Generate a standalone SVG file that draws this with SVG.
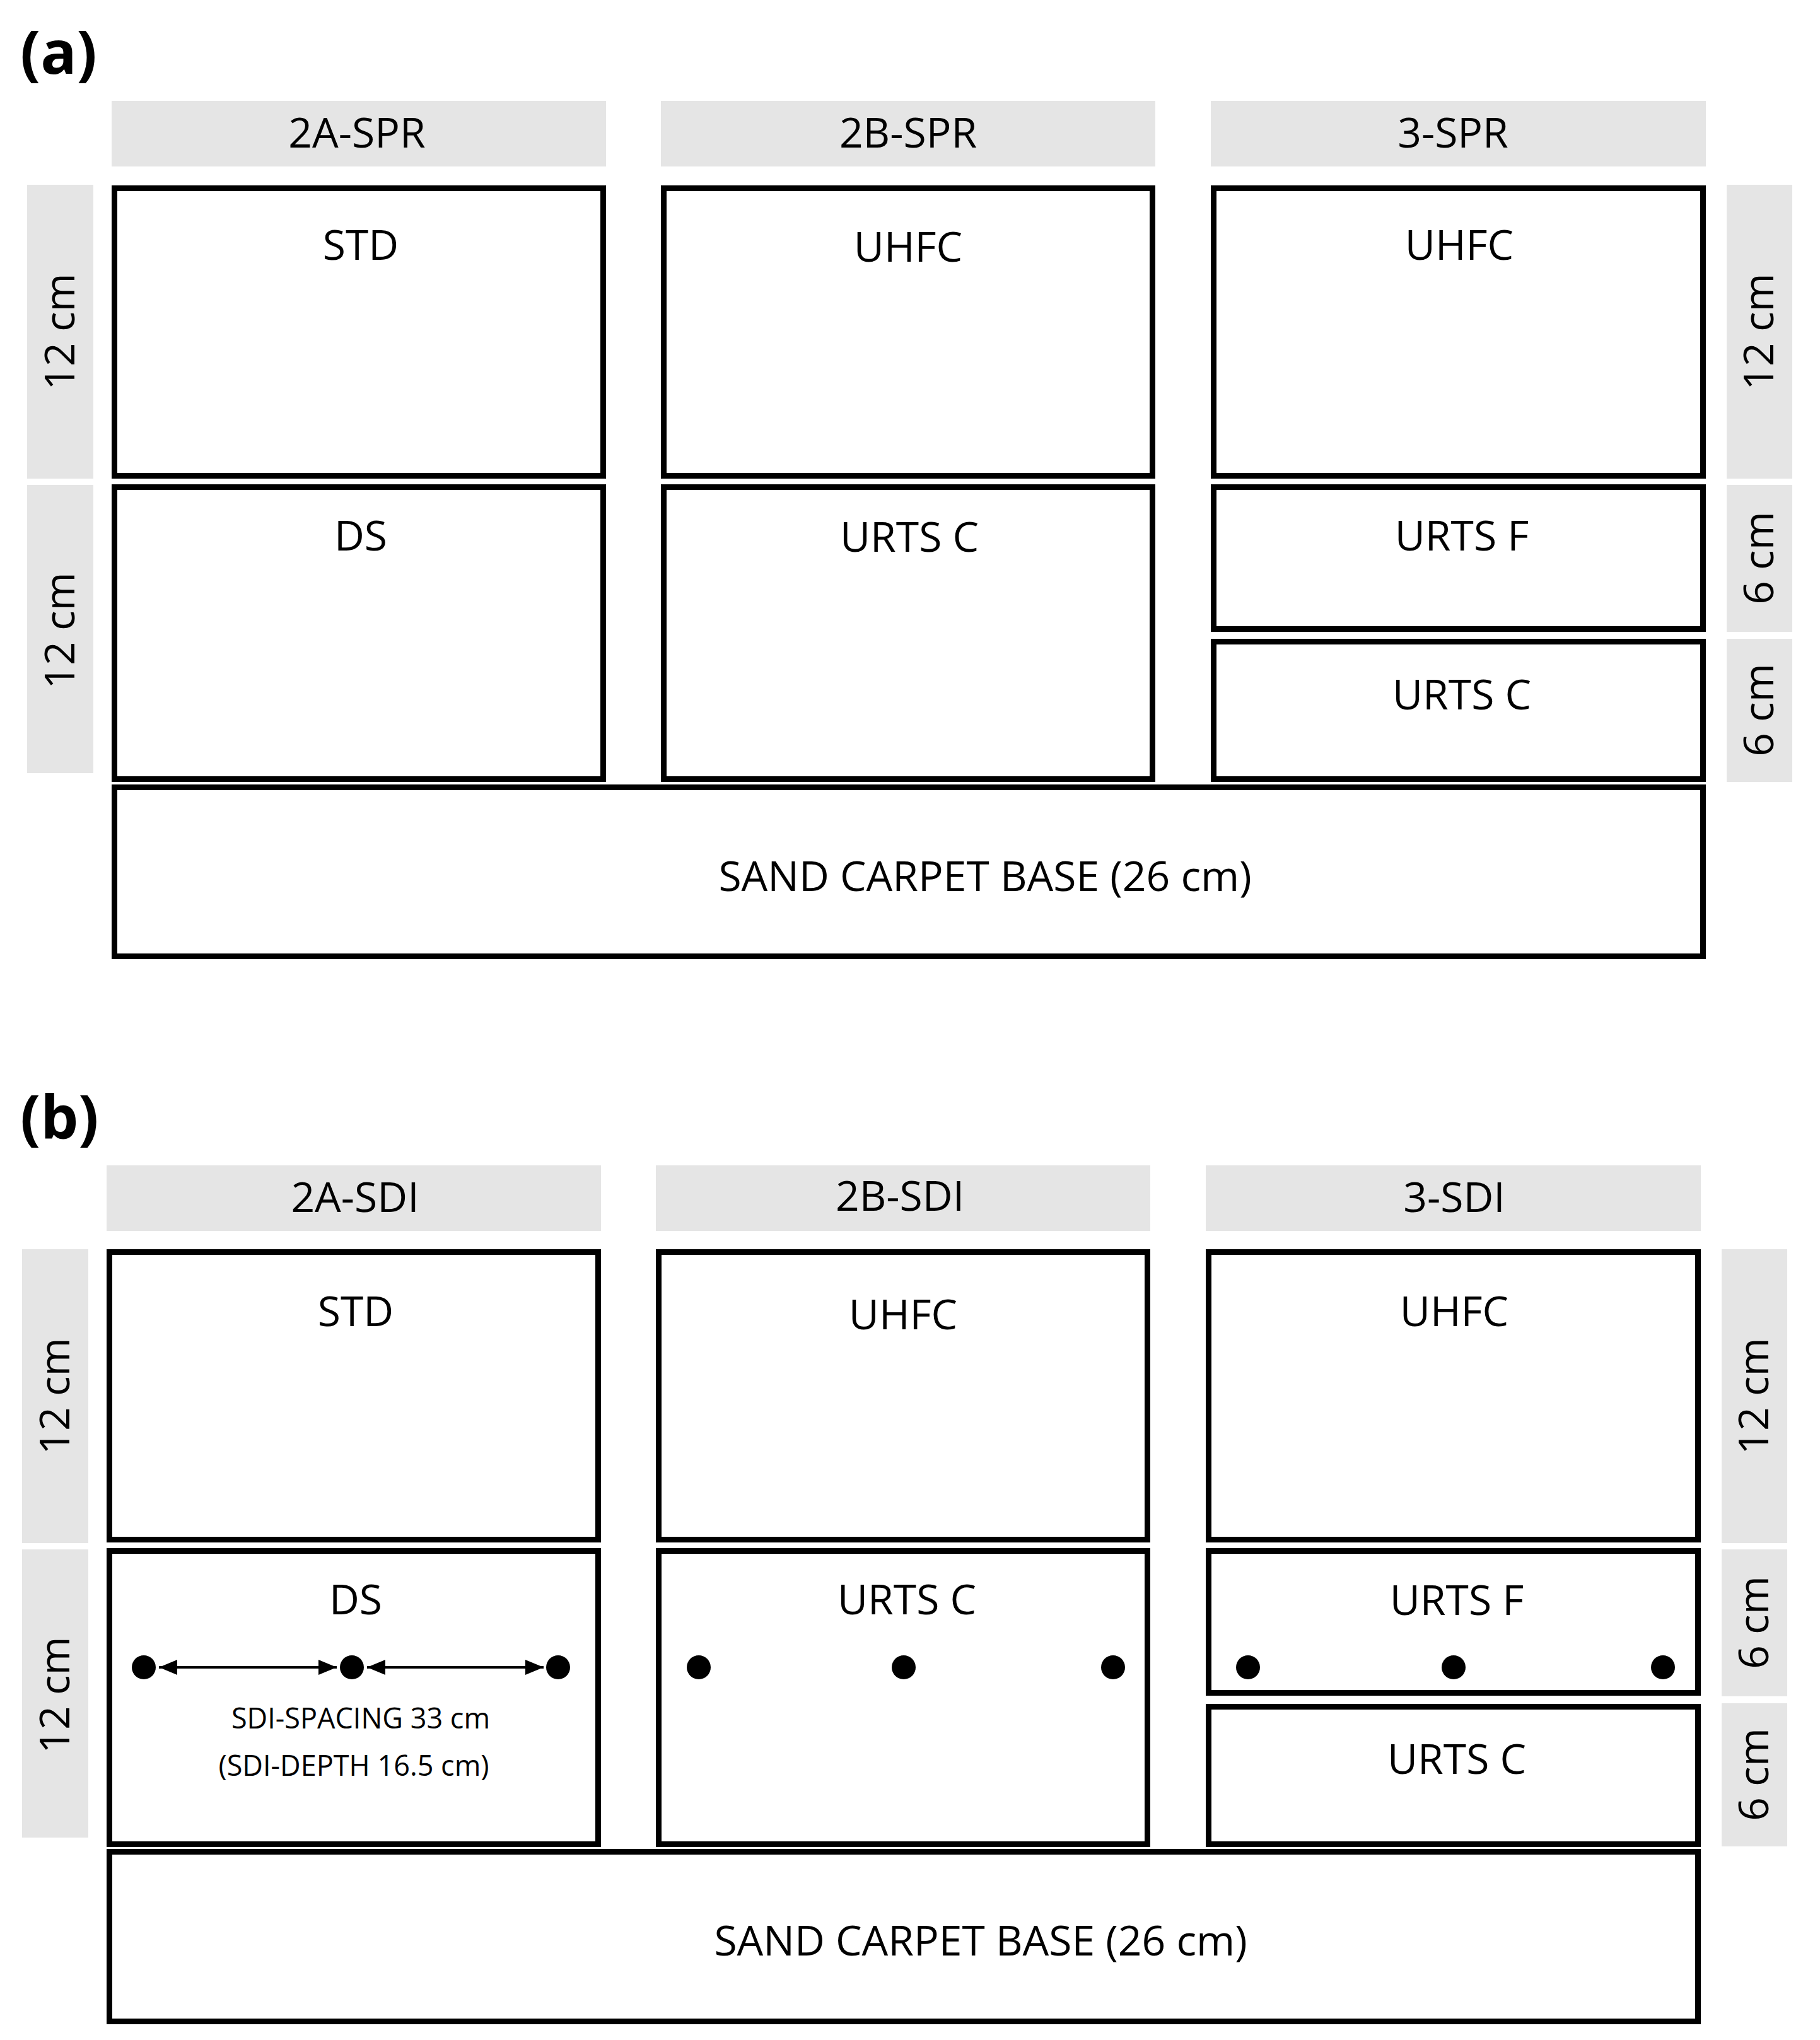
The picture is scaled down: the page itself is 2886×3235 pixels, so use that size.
<svg xmlns="http://www.w3.org/2000/svg" width="2886" height="3235" viewBox="0 0 2886 3235">
<style>
  text { font-family: "Open Sans", "Noto Sans", "Liberation Sans", sans-serif; fill: #000; }
  .hdr { fill: #e5e5e5; stroke: none; }
  .box { fill: #fff; stroke: #000; stroke-width: 9; }
  .t { font-size: 66px; text-anchor: middle; }
  .side { font-size: 66px; text-anchor: middle; }
  .small { font-size: 45px; text-anchor: middle; }
  .panel { font-size: 95px; font-weight: bold; }
  .dot { fill: #000; }
  .arr { stroke: #000; stroke-width: 4; fill: none; marker-start: url(#ah); marker-end: url(#ah); }
</style>
<defs>
  <marker id="ah" markerUnits="userSpaceOnUse" markerWidth="30" markerHeight="26" refX="29" refY="12" orient="auto-start-reverse">
    <path d="M0,0 L29,12 L0,24 z" fill="#000"/>
  </marker>
</defs>
<rect width="2886" height="3235" fill="#fff"/>

<!-- Panel (a) -->
<g id="panel-a">
  <text class="panel" x="32" y="117">(a)</text>
  <g id="a-hdr-2A"><rect class="hdr" x="177" y="160" width="784" height="104"/><text class="t" x="566" y="234">2A-SPR</text></g>
  <g id="a-hdr-2B"><rect class="hdr" x="1048" y="160" width="784" height="104"/><text class="t" x="1440" y="234">2B-SPR</text></g>
  <g id="a-hdr-3"><rect class="hdr" x="1920" y="160" width="785" height="104"/><text class="t" x="2304" y="234">3-SPR</text></g>

  <g id="a-lbl-l1"><rect class="hdr" x="43" y="293" width="105" height="466"/><text class="side" transform="translate(118,526) rotate(-90)">12 cm</text></g>
  <g id="a-lbl-l2"><rect class="hdr" x="43" y="769" width="105" height="457"/><text class="side" transform="translate(118,1000) rotate(-90)">12 cm</text></g>
  <g id="a-lbl-r1"><rect class="hdr" x="2738" y="293" width="104" height="466"/><text class="side" transform="translate(2812,526) rotate(-90)">12 cm</text></g>
  <g id="a-lbl-r2"><rect class="hdr" x="2738" y="769" width="104" height="233"/><text class="side" transform="translate(2812,885) rotate(-90)">6 cm</text></g>
  <g id="a-lbl-r3"><rect class="hdr" x="2738" y="1013" width="104" height="227"/><text class="side" transform="translate(2812,1126) rotate(-90)">6 cm</text></g>

  <g id="a-std"><rect class="box" x="181.5" y="298.5" width="775" height="456"/><text class="t" x="572" y="412">STD</text></g>
  <g id="a-ds"><rect class="box" x="181.5" y="772.5" width="775" height="463"/><text class="t" x="572" y="873">DS</text></g>
  <g id="a-uhfc2"><rect class="box" x="1052.5" y="298.5" width="775" height="456"/><text class="t" x="1440" y="415">UHFC</text></g>
  <g id="a-urtsc2"><rect class="box" x="1052.5" y="772.5" width="775" height="463"/><text class="t" x="1442" y="875">URTS C</text></g>
  <g id="a-uhfc3"><rect class="box" x="1924.5" y="298.5" width="776" height="456"/><text class="t" x="2314" y="412">UHFC</text></g>
  <g id="a-urtsf3"><rect class="box" x="1924.5" y="772.5" width="776" height="225"/><text class="t" x="2318" y="873">URTS F</text></g>
  <g id="a-urtsc3"><rect class="box" x="1924.5" y="1017.5" width="776" height="218"/><text class="t" x="2318" y="1125">URTS C</text></g>
  <g id="a-base"><rect class="box" x="181.5" y="1248.5" width="2519" height="268"/><text class="t" x="1562" y="1413">SAND CARPET BASE (26 cm)</text></g>
</g>

<!-- Panel (b) -->
<g id="panel-b">
  <text class="panel" x="32" y="1805">(b)</text>
  <g id="b-hdr-2A"><rect class="hdr" x="169" y="1848" width="784" height="104"/><text class="t" x="563" y="1922">2A-SDI</text></g>
  <g id="b-hdr-2B"><rect class="hdr" x="1040" y="1848" width="784" height="104"/><text class="t" x="1427" y="1920">2B-SDI</text></g>
  <g id="b-hdr-3"><rect class="hdr" x="1912" y="1848" width="785" height="104"/><text class="t" x="2306" y="1922">3-SDI</text></g>

  <g id="b-lbl-l1"><rect class="hdr" x="35" y="1981" width="105" height="466"/><text class="side" transform="translate(110,2214) rotate(-90)">12 cm</text></g>
  <g id="b-lbl-l2"><rect class="hdr" x="35" y="2457" width="105" height="457"/><text class="side" transform="translate(110,2688) rotate(-90)">12 cm</text></g>
  <g id="b-lbl-r1"><rect class="hdr" x="2730" y="1981" width="104" height="466"/><text class="side" transform="translate(2804,2214) rotate(-90)">12 cm</text></g>
  <g id="b-lbl-r2"><rect class="hdr" x="2730" y="2457" width="104" height="233"/><text class="side" transform="translate(2804,2573) rotate(-90)">6 cm</text></g>
  <g id="b-lbl-r3"><rect class="hdr" x="2730" y="2701" width="104" height="227"/><text class="side" transform="translate(2804,2814) rotate(-90)">6 cm</text></g>

  <g id="b-std"><rect class="box" x="173.5" y="1985.5" width="775" height="456"/><text class="t" x="564" y="2103">STD</text></g>
  <g id="b-ds"><rect class="box" x="173.5" y="2459.5" width="775" height="465"/><text class="t" x="564" y="2560">DS</text>
    <circle class="dot" cx="228" cy="2644" r="19"/><circle class="dot" cx="558" cy="2644" r="19"/><circle class="dot" cx="885" cy="2644" r="19"/>
    <text class="small" x="572" y="2741">SDI-SPACING 33 cm</text>
    <text class="small" x="561" y="2816">(SDI-DEPTH 16.5 cm)</text>
  </g>
  <g id="b-uhfc2"><rect class="box" x="1044.5" y="1985.5" width="775" height="456"/><text class="t" x="1432" y="2108">UHFC</text></g>
  <g id="b-urtsc2"><rect class="box" x="1044.5" y="2459.5" width="775" height="465"/><text class="t" x="1438" y="2560">URTS C</text>
    <circle class="dot" cx="1108" cy="2644" r="19"/><circle class="dot" cx="1433" cy="2644" r="19"/><circle class="dot" cx="1765" cy="2644" r="19"/>
  </g>
  <g id="b-uhfc3"><rect class="box" x="1916.5" y="1985.5" width="776" height="456"/><text class="t" x="2306" y="2103">UHFC</text></g>
  <g id="b-urtsf3"><rect class="box" x="1916.5" y="2459.5" width="776" height="225"/><text class="t" x="2310" y="2561">URTS F</text>
    <circle class="dot" cx="1979" cy="2644" r="19"/><circle class="dot" cx="2305" cy="2644" r="19"/><circle class="dot" cx="2637" cy="2644" r="19"/>
  </g>
  <g id="b-urtsc3"><rect class="box" x="1916.5" y="2706.5" width="776" height="218"/><text class="t" x="2310" y="2813">URTS C</text></g>
  <g id="b-base"><rect class="box" x="173.5" y="2936.5" width="2519" height="269"/><text class="t" x="1555" y="3101">SAND CARPET BASE (26 cm)</text></g>
</g>

<g id="connectors">
  <line class="arr" x1="252" y1="2644" x2="534" y2="2644"/>
  <line class="arr" x1="582" y1="2644" x2="862" y2="2644"/>
</g>
</svg>
